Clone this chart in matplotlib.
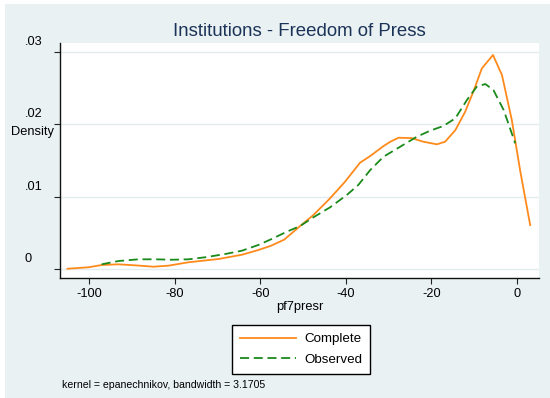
import matplotlib
matplotlib.use("Agg")
import matplotlib.pyplot as plt
import matplotlib.transforms as mtransforms
from matplotlib.patches import Rectangle

# kernel density estimates
complete_x = [-105.1, -100.2, -97.1, -93.2, -89.3, -85.0, -81.5, -76.8, -69.8,
              -64.3, -60.5, -57.5, -54.4, -50.7, -47.6, -43.7, -40.2, -36.7,
              -34.3, -31.2, -29.6, -27.7, -24.6, -21.9, -18.7, -16.8, -14.4,
              -12.1, -10.2, -8.2, -5.6, -3.5, -1.2, 0.8, 3.1]
complete_y = [0.00008, 0.00028, 0.00059, 0.00069, 0.00055, 0.00036, 0.00050,
              0.00097, 0.00142, 0.00201, 0.00266, 0.00325, 0.00410, 0.00597,
              0.00749, 0.00979, 0.01208, 0.01470, 0.01563, 0.01700, 0.01760,
              0.01815, 0.01810, 0.01760, 0.01724, 0.01760, 0.01920, 0.02174,
              0.02450, 0.02772, 0.02956, 0.02680, 0.02060, 0.01346, 0.00610]

observed_x = [-97.1, -93.2, -88.5, -84.6, -80.7, -76.8, -72.9, -68.2, -64.3,
              -60.5, -57.5, -53.8, -50.7, -47.6, -43.7, -39.8, -37.1, -34.3,
              -31.2, -27.3, -23.4, -20.3, -17.2, -14.4, -11.7, -9.4, -7.4,
              -5.5, -3.1, -0.4]
observed_y = [0.00069, 0.00114, 0.00138, 0.00138, 0.00132, 0.00138, 0.00166,
              0.00211, 0.00257, 0.00335, 0.00414, 0.00519, 0.00597, 0.00717,
              0.00855, 0.01025, 0.01163, 0.01370, 0.01553, 0.01691, 0.01829,
              0.01912, 0.01977, 0.02083, 0.02335, 0.02519, 0.02556, 0.02473,
              0.02197, 0.01738]

x_ticks = [-100, -80, -60, -40, -20, 0]
y_ticks = [0, 0.01, 0.02, 0.03]
y_tick_labels = ["0", ".01", ".02", ".03"]

BG = "#e9f1f3"
TITLE_COLOR = "#1c3358"

plt.rcParams["font.family"] = ["Liberation Sans", "DejaVu Sans"]

W, H = 550, 398
fig = plt.figure(figsize=(W / 100, H / 100), dpi=100)
fig.patch.set_facecolor("white")
# light outer region (picture has a thin white strip on top and left)
fig.patches.append(Rectangle((5 / W, 0), 1 - 5 / W, 1 - 4 / H,
                             transform=fig.transFigure, facecolor=BG,
                             edgecolor="none", zorder=-10))

ax = fig.add_axes([60 / W, 1 - 277.5 / H, 479.3 / W, 234.8 / H])
ax.set_facecolor("white")

ax.plot(complete_x, complete_y, color="#ff8a1c", lw=1.3, label="Complete",
        zorder=3)
ax.plot(observed_x, observed_y, color="#1a8a1a", lw=1.3,
        linestyle=(0, (5, 2.6)), label="Observed", zorder=3)

ax.set_xlim(-106.85, 5.23)
ax.set_ylim(-0.00113, 0.03126)

for s in ["top", "right"]:
    ax.spines[s].set_visible(False)
for s in ["left", "bottom"]:
    ax.spines[s].set_color("#111111")
    ax.spines[s].set_linewidth(1.0)

ax.set_xticks(x_ticks)
ax.set_xticklabels([str(v) for v in x_ticks])
ax.tick_params(axis="x", length=4.3, width=0.8, color="#222222", pad=3,
               labelsize=9.2)
ax.set_yticks(y_ticks)
ax.set_yticklabels([])
ax.tick_params(axis="y", length=4.3, width=0.8, color="#222222")
ax.grid(axis="y", color="#e3ecee", lw=1.0, zorder=0)
ax.set_axisbelow(True)

# y labels: horizontal, left aligned, sitting a bit above their ticks
up = mtransforms.ScaledTranslation(0, 10 / 100, fig.dpi_scale_trans)
for v, lab in zip(y_ticks, y_tick_labels):
    ax.text((25 - 60) / 479.3, v, lab, transform=ax.get_yaxis_transform() + up,
            ha="left", va="center", fontsize=9.2)

fig.text(54 / W, 1 - 131.7 / H, "Density", ha="right", va="center",
         fontsize=9.3)
ax.set_xlabel("pf7presr", fontsize=9.3, labelpad=1)

fig.text(299.7 / W, 1 - 31.6 / H, "Institutions - Freedom of Press",
         ha="center", va="center", fontsize=13.4, color=TITLE_COLOR)

leg = fig.legend(loc="upper left", bbox_to_anchor=(232 / W, 1 - 325 / H),
                 fontsize=9.6, handlelength=4.2, handletextpad=0.6,
                 labelspacing=0.6, borderpad=0.6, borderaxespad=0,
                 fancybox=False, framealpha=1, edgecolor="black")
leg.get_frame().set_linewidth(1.0)

fig.text(62 / W, 1 - 385 / H, "kernel = epanechnikov, bandwidth = 3.1705",
         ha="left", va="center", fontsize=7.6)

fig.savefig("out.png", dpi=100, facecolor=fig.get_facecolor())
